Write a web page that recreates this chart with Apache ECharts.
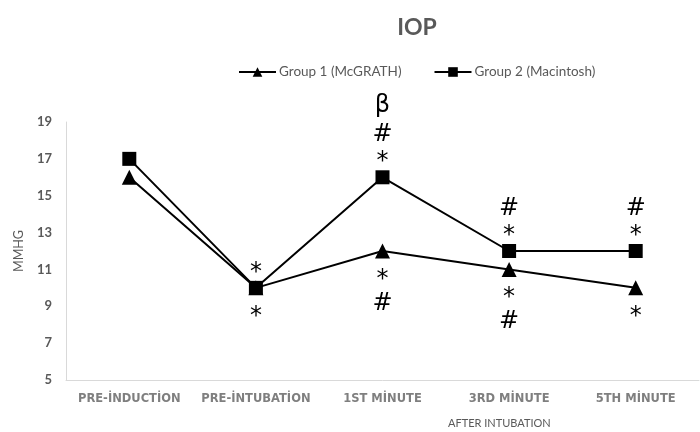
<!DOCTYPE html>
<html>
<head>
<meta charset="utf-8">
<script src="https://cdn.jsdelivr.net/npm/echarts@6/dist/echarts.min.js"></script>
<style>html,body{margin:0;padding:0;background:#fff}#c{width:700px;height:432px}</style>
</head>
<body>
<div id="c"></div>
<script>
var categories = ['PRE-İNDUCTİON', 'PRE-İNTUBATİON', '1ST MİNUTE', '3RD MİNUTE', '5TH MİNUTE'];
var group1 = [16, 10, 12, 11, 10];
var group2 = [17, 10, 16, 12, 12];
var group1Notes = ['', '*', '*\n#', '*\n#', '*'];
var group2Notes = ['', '*', 'β\n#\n*', '#\n*', '#\n*'];
var yTicks = [5, 7, 9, 11, 13, 15, 17, 19];

function toRich(note) {
  return note.split('\n').map(function (s) { return s === 'β' ? '{b|β}' : '{s|' + s + '}'; }).join('\n');
}

function build(values, notes, pos, dist, lh) {
  return values.map(function (v, i) {
    var item = { value: v };
    if (notes[i]) {
      item.label = {
        show: true, position: pos, distance: dist, formatter: toRich(notes[i]),
        rich: {
          s: { fontFamily: 'DejaVu Sans', fontSize: 24, color: '#000', lineHeight: lh },
          b: { fontFamily: 'DejaVu Sans', fontSize: 24, color: '#000', lineHeight: 31 }
        }
      };
    }
    return item;
  });
}

var chart = echarts.init(document.getElementById('c'));
chart.setOption({
  animation: false,
  title: {
    text: 'IOP', left: 412, top: 11, textAlign: 'center',
    textStyle: { fontFamily: 'Lato', fontWeight: 'bold', fontSize: 23, color: '#595959' }
  },
  legend: {
    left: 233, top: 60, itemWidth: 37, itemHeight: 12, itemGap: 32,
    data: ['Group 1 (McGRATH)', 'Group 2 (Macintosh)'],
    textStyle: { fontFamily: 'Lato', fontSize: 13.5, color: '#595959', padding: [0, 0, 0, -2] }
  },
  grid: { left: 66, right: 1, top: 122, bottom: 52, containLabel: false },
  xAxis: {
    type: 'category', data: categories, boundaryGap: true,
    axisLine: { lineStyle: { color: '#d9d9d9', width: 1 } },
    axisTick: { show: false },
    axisLabel: { fontFamily: 'DejaVu Sans', fontWeight: 'bold', fontSize: 11.5, color: '#7f7f7f', margin: 13, interval: 0 }
  },
  yAxis: {
    type: 'value', min: yTicks[0], max: yTicks[yTicks.length - 1], interval: 2,
    name: 'MMHG', nameLocation: 'middle', nameGap: 41,
    nameTextStyle: { fontFamily: 'Lato', fontSize: 12.5, color: '#595959' },
    axisLine: { show: true, lineStyle: { color: '#d9d9d9', width: 1 } },
    axisTick: { show: false },
    splitLine: { show: false },
    axisLabel: { fontFamily: 'Lato', fontWeight: 'bold', fontSize: 13, color: '#595959', margin: 14 }
  },
  graphic: [{
    type: 'text', left: 448, top: 418,
    style: { text: 'AFTER INTUBATION', fontFamily: 'Lato', fontSize: 11, fill: '#595959' }
  }],
  series: [{
    name: 'Group 1 (McGRATH)', type: 'line', data: build(group1, group1Notes, 'bottom', 9, 24),
    symbol: 'triangle', symbolSize: 15,
    lineStyle: { color: '#000', width: 2 }, itemStyle: { color: '#000' }, z: 3
  }, {
    name: 'Group 2 (Macintosh)', type: 'line', data: build(group2, group2Notes, 'top', -5, 27),
    symbol: 'rect', symbolSize: 14,
    lineStyle: { color: '#000', width: 2 }, itemStyle: { color: '#000' }, z: 4
  }]
});
</script>
</body>
</html>
